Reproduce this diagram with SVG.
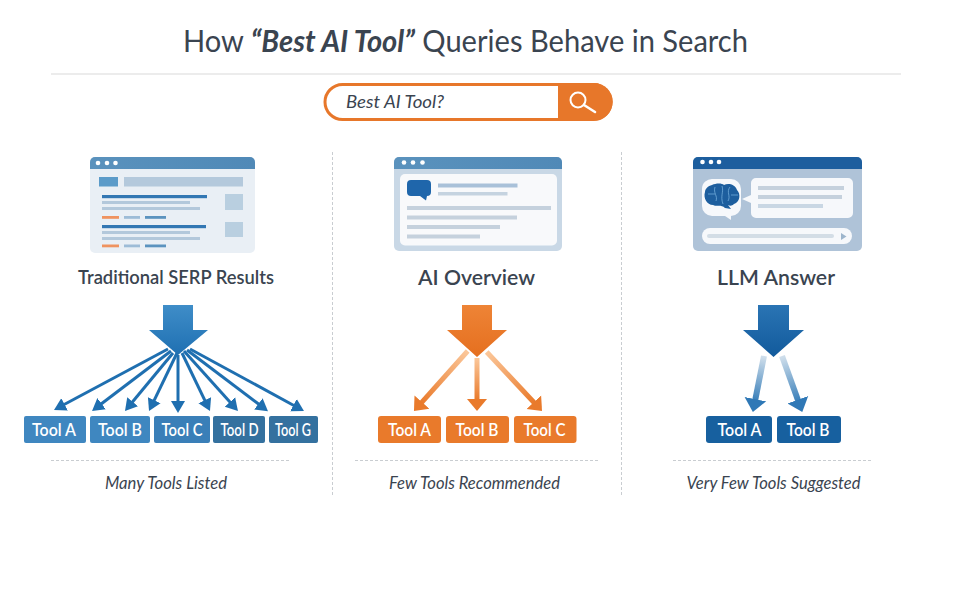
<svg xmlns="http://www.w3.org/2000/svg" width="960" height="600" viewBox="0 0 960 600">
<style>
text{font-family:"Lato","Open Sans","Liberation Sans",sans-serif;fill:#3a4450}
.title{font-size:31px;font-weight:400}
.label{font-size:19.5px;font-weight:600;text-anchor:middle}
.cap{font-size:16.5px;font-style:italic;text-anchor:middle}
.tool{font-size:17px;font-weight:600;fill:#fff;text-anchor:middle}
.dash{stroke:#c9cdd1;stroke-width:1;stroke-dasharray:3 2;fill:none}
.fan{stroke:#1f6fb0;stroke-width:3;fill:none;marker-end:url(#hBlue)}
.or{stroke-width:5;fill:none;marker-end:url(#hOrange)}
.bl{stroke-width:6;fill:none;marker-end:url(#hBlue2)}
</style>
<defs>
<marker id="hBlue" markerUnits="userSpaceOnUse" markerWidth="16" markerHeight="16" refX="1" refY="8" orient="auto"><path d="M0,1 L12,8 L0,15 Z" fill="#1f6fb0"/></marker>
<marker id="hOrange" markerUnits="userSpaceOnUse" markerWidth="20" markerHeight="22" refX="1" refY="11" orient="auto"><path d="M0,1 L12,11 L0,21 Z" fill="#e97a2b"/></marker>
<marker id="hBlue2" markerUnits="userSpaceOnUse" markerWidth="20" markerHeight="24" refX="1" refY="12" orient="auto"><path d="M0,1 L13,12 L0,23 Z" fill="#2f78b6"/></marker>
<linearGradient id="gBig1" x1="0" y1="0" x2="0" y2="1"><stop offset="0" stop-color="#3f8dc8"/><stop offset="1" stop-color="#1f70b2"/></linearGradient>
<linearGradient id="gBig2" x1="0" y1="0" x2="0" y2="1"><stop offset="0" stop-color="#ee8436"/><stop offset="1" stop-color="#e56f1f"/></linearGradient>
<linearGradient id="gBig3" x1="0" y1="0" x2="0" y2="1"><stop offset="0" stop-color="#2a74b4"/><stop offset="1" stop-color="#125a9c"/></linearGradient>
<linearGradient id="o1" gradientUnits="userSpaceOnUse" x1="467" y1="351" x2="421" y2="403"><stop offset="0" stop-color="#fbc79a"/><stop offset="1" stop-color="#e97a2b"/></linearGradient>
<linearGradient id="o2" gradientUnits="userSpaceOnUse" x1="477" y1="358" x2="477" y2="400"><stop offset="0" stop-color="#fbc79a"/><stop offset="1" stop-color="#e97a2b"/></linearGradient>
<linearGradient id="o3" gradientUnits="userSpaceOnUse" x1="487" y1="352" x2="534" y2="403"><stop offset="0" stop-color="#fbc79a"/><stop offset="1" stop-color="#e97a2b"/></linearGradient>
<linearGradient id="b1" gradientUnits="userSpaceOnUse" x1="764" y1="356" x2="755" y2="400"><stop offset="0" stop-color="#d2e0ec"/><stop offset="1" stop-color="#3a80ba"/></linearGradient>
<linearGradient id="b2" gradientUnits="userSpaceOnUse" x1="782" y1="356" x2="798" y2="401"><stop offset="0" stop-color="#d2e0ec"/><stop offset="1" stop-color="#3a80ba"/></linearGradient>
<linearGradient id="hdr" x1="0" y1="0" x2="1" y2="0"><stop offset="0" stop-color="#5a92bd"/><stop offset="1" stop-color="#5089b7"/></linearGradient>
</defs>
<rect width="960" height="600" fill="#fff"/>

<g id="header">
<text class="title" x="183" y="52" textLength="565" lengthAdjust="spacingAndGlyphs">How <tspan font-weight="700" font-style="italic">“Best AI Tool”</tspan> Queries Behave in Search</text>
<line x1="51" y1="74" x2="901" y2="74" stroke="#e6e6e6" stroke-width="1.4"/>
</g>

<g id="searchbox">
<rect x="325" y="84.500" width="286" height="35" rx="17.500" fill="#fff" stroke="#e7772a" stroke-width="3"/>
<path d="M558,83 H594 A18.500,18.500 0 0 1 594,120.500 H558 Z" fill="#e7772a"/>
<text x="346" y="108" font-size="18" font-style="italic" textLength="98" lengthAdjust="spacingAndGlyphs">Best AI Tool?</text>
<circle cx="578" cy="100" r="7.500" fill="none" stroke="#fff" stroke-width="2"/>
<line x1="584" y1="105" x2="595" y2="112" stroke="#fff" stroke-width="2.600" stroke-linecap="round"/>
</g>

<g id="dividers">
<line class="dash" x1="332.500" y1="152" x2="332.500" y2="497"/>
<line class="dash" x1="621.500" y1="152" x2="621.500" y2="497"/>
</g>

<g id="window-serp">
<rect x="90" y="157" width="165" height="96" rx="5" fill="#e9eff5"/>
<path d="M90,169 V162 A5,5 0 0 1 95,157 H250 A5,5 0 0 1 255,162 V169 Z" fill="url(#hdr)"/>
<circle cx="98" cy="163" r="2.300" fill="#fff"/><circle cx="107" cy="163" r="2.300" fill="#fff"/><circle cx="115.500" cy="163" r="2.300" fill="#fff"/>
<rect x="99" y="177" width="19" height="9.500" fill="#5b9bc9"/>
<rect x="124" y="177" width="119" height="9.500" fill="#b4c9dc"/>
<rect x="102" y="195" width="105" height="3.200" fill="#3277b3"/>
<rect x="102" y="201" width="88" height="3" fill="#b3c8db"/>
<rect x="102" y="207" width="98" height="3" fill="#b3c8db"/>
<rect x="102" y="216" width="17" height="2.800" fill="#ef9360"/>
<rect x="124" y="216" width="16" height="2.800" fill="#9dbcd7"/>
<rect x="145" y="216" width="21" height="2.800" fill="#5b93bf"/>
<rect x="225" y="194" width="18" height="16" fill="#b9cfe0"/>
<rect x="102" y="225" width="104" height="3.200" fill="#3277b3"/>
<rect x="102" y="231" width="88" height="3" fill="#b3c8db"/>
<rect x="102" y="237" width="98" height="3" fill="#b3c8db"/>
<rect x="102" y="244.500" width="17" height="2.800" fill="#ef9360"/>
<rect x="124" y="244.500" width="16" height="2.800" fill="#9dbcd7"/>
<rect x="145" y="244.500" width="21" height="2.800" fill="#5b93bf"/>
<rect x="225" y="222" width="18" height="15" fill="#b9cfe0"/>
<text class="label" x="176" y="284" textLength="196" lengthAdjust="spacingAndGlyphs">Traditional SERP Results</text>
</g>

<g id="window-overview">
<rect x="394" y="157" width="168" height="94" rx="5" fill="#c9d8e6"/>
<path d="M394,169 V162 A5,5 0 0 1 399,157 H557 A5,5 0 0 1 562,162 V169 Z" fill="url(#hdr)"/>
<circle cx="404" cy="162.500" r="2.300" fill="#fff"/><circle cx="413" cy="162.500" r="2.300" fill="#fff"/><circle cx="422.500" cy="162.500" r="2.300" fill="#fff"/>
<rect x="400" y="174" width="157" height="71.500" rx="5" fill="#f8f9fb"/>
<path d="M411,180 H427 A4,4 0 0 1 431,184 V192 A4,4 0 0 1 427,196 H427 L426,200.500 L420,196 H411 A4,4 0 0 1 407,192 V184 A4,4 0 0 1 411,180 Z" fill="#1f66ab"/>
<rect x="438" y="183.500" width="79.500" height="4" fill="#a9c1d9"/>
<rect x="438" y="192" width="69.500" height="3.500" fill="#c5d3e0"/>
<rect x="407" y="206" width="144" height="4" fill="#c5d1dd"/>
<rect x="407" y="215.500" width="110" height="4" fill="#c5d1dd"/>
<rect x="407" y="225" width="93" height="4" fill="#c5d1dd"/>
<rect x="407" y="234.500" width="73" height="4" fill="#c5d1dd"/>
<text class="label" x="476.500" y="285" style="font-size:20.500px" textLength="117" lengthAdjust="spacingAndGlyphs">AI Overview</text>
</g>

<g id="window-llm">
<rect x="693" y="157" width="169" height="94" rx="5" fill="#afc3d8"/>
<path d="M693,169 V162 A5,5 0 0 1 698,157 H857 A5,5 0 0 1 862,162 V169 Z" fill="#1d5e9e"/>
<circle cx="702.500" cy="162" r="2.300" fill="#fff"/><circle cx="711" cy="162" r="2.300" fill="#fff"/><circle cx="719" cy="162" r="2.300" fill="#fff"/>
<path d="M713,179 H731 A10,10 0 0 1 741,189 V206 A10,10 0 0 1 731,216 V220 L725,216 H712 A10,10 0 0 1 702,206 V189 A10,10 0 0 1 713,179 Z" fill="#f6f8fb"/>
<path d="M712,185 C716,183 722,183 724,185 C728,183 735,184 737,190 C741,194 740,202 734,204 C732,206 730,206 728,205 L731,209 L725,208 C721,204 717,207 713,205 C707,205 703,198 705,192 C705,189 708,186 712,185 Z" fill="#1d5e9e"/>
<path d="M715,187 C713,193 718,196 716,201 M722,186 C724,192 720,196 723,204 M730,187 C726,192 731,196 728,201 M708,194 H715 M731,195 H738" fill="none" stroke="#7db6e2" stroke-width="0.700"/>
<path d="M751,183 A5,5 0 0 1 756,178 H848 A5,5 0 0 1 853,183 V213 A5,5 0 0 1 848,218 H756 A5,5 0 0 1 751,213 V203 L742,199 L751,195 Z" fill="#f6f8fb"/>
<rect x="758" y="186" width="86" height="4" fill="#c5d1dd"/>
<rect x="758" y="195" width="84" height="4" fill="#c5d1dd"/>
<rect x="758" y="204" width="65" height="4" fill="#c9d7e4"/>
<rect x="702" y="228" width="150" height="16" rx="8" fill="#f6f8fb"/>
<rect x="707" y="234" width="127" height="4" rx="2" fill="#d3dde6"/>
<path d="M841,233 L846.500,236.500 L841,240 Z" fill="#9db5cc"/>
<text class="label" x="776" y="285" style="font-size:20.500px" textLength="118" lengthAdjust="spacingAndGlyphs">LLM Answer</text>
</g>

<g id="connectors">
<path d="M163,305 H193 V330 H208 L178,355 L149,330 H163 Z" fill="url(#gBig1)"/>
<line class="fan" x1="168" y1="349" x2="63.700" y2="404.800"/>
<line class="fan" x1="171" y1="351" x2="100.800" y2="404.300"/>
<line class="fan" x1="173" y1="353" x2="132" y2="402.500"/>
<line class="fan" x1="177" y1="353" x2="153.800" y2="401.100"/>
<line class="fan" x1="178" y1="355" x2="178" y2="402"/>
<line class="fan" x1="182" y1="353" x2="205.200" y2="401.100"/>
<line class="fan" x1="184" y1="351" x2="230.600" y2="402.800"/>
<line class="fan" x1="187" y1="350" x2="259.200" y2="404.500"/>
<line class="fan" x1="190" y1="349" x2="294.300" y2="405.700"/>

<path d="M462,305 H492 V330 H507 L477,357 L447,330 H462 Z" fill="url(#gBig2)"/>
<line class="or" stroke="url(#o1)" x1="467.700" y1="351" x2="421.300" y2="402.800"/>
<line class="or" stroke="url(#o2)" x1="477" y1="358" x2="477.001" y2="400"/>
<line class="or" stroke="url(#o3)" x1="486.700" y1="352" x2="534.500" y2="403"/>

<path d="M758,305 H789 V330 H804 L773.500,357 L743,330 H758 Z" fill="url(#gBig3)"/>
<line class="bl" stroke="url(#b1)" x1="764" y1="356" x2="755.200" y2="400.200"/>
<line class="bl" stroke="url(#b2)" x1="782" y1="356" x2="798.200" y2="400.700"/>
</g>

<g id="col1-tool-a"><rect x="24" y="416" width="62" height="27" rx="2" fill="#3f87c0"/><text class="tool" x="54" y="435.500" textLength="44" lengthAdjust="spacingAndGlyphs">Tool A</text></g>
<g id="col1-tool-b"><rect x="90" y="416" width="60" height="27" rx="2" fill="#3f87c0"/><text class="tool" x="120" y="435.500" textLength="44" lengthAdjust="spacingAndGlyphs">Tool B</text></g>
<g id="col1-tool-c"><rect x="154" y="416" width="56" height="27" rx="2" fill="#3a7fb8"/><text class="tool" x="182" y="435.500" textLength="41" lengthAdjust="spacingAndGlyphs">Tool C</text></g>
<g id="col1-tool-d"><rect x="213" y="416" width="52" height="27" rx="2" fill="#34719f"/><text class="tool" x="239.500" y="435.500" textLength="38" lengthAdjust="spacingAndGlyphs">Tool D</text></g>
<g id="col1-tool-g"><rect x="269" y="416" width="49" height="27" rx="2" fill="#34719f"/><text class="tool" x="293" y="435.500" textLength="36" lengthAdjust="spacingAndGlyphs">Tool G</text></g>

<g id="col2-tool-a"><rect x="378" y="416" width="63" height="27" rx="3" fill="#e97a2b"/><text class="tool" x="409.500" y="435.500" textLength="43" lengthAdjust="spacingAndGlyphs">Tool A</text></g>
<g id="col2-tool-b"><rect x="446" y="416" width="63" height="27" rx="3" fill="#e97a2b"/><text class="tool" x="477" y="435.500" textLength="43" lengthAdjust="spacingAndGlyphs">Tool B</text></g>
<g id="col2-tool-c"><rect x="514" y="416" width="62.500" height="27" rx="3" fill="#e97a2b"/><text class="tool" x="544.500" y="435.500" textLength="42" lengthAdjust="spacingAndGlyphs">Tool C</text></g>

<g id="col3-tool-a"><rect x="706" y="416" width="66" height="27" rx="3" fill="#17609f"/><text class="tool" x="739.500" y="435.500" textLength="44" lengthAdjust="spacingAndGlyphs">Tool A</text></g>
<g id="col3-tool-b"><rect x="777" y="416" width="64" height="27" rx="3" fill="#17609f"/><text class="tool" x="808" y="435.500" textLength="43" lengthAdjust="spacingAndGlyphs">Tool B</text></g>

<g id="captions">
<line class="dash" x1="51" y1="460.500" x2="290" y2="460.500"/>
<line class="dash" x1="355" y1="460.500" x2="600" y2="460.500"/>
<line class="dash" x1="673" y1="460.500" x2="872" y2="460.500"/>
<text class="cap" x="166" y="489" textLength="122" lengthAdjust="spacingAndGlyphs">Many Tools Listed</text>
<text class="cap" x="474.500" y="489" textLength="171" lengthAdjust="spacingAndGlyphs">Few Tools Recommended</text>
<text class="cap" x="773.500" y="489" textLength="174" lengthAdjust="spacingAndGlyphs">Very Few Tools Suggested</text>
</g>
</svg>
